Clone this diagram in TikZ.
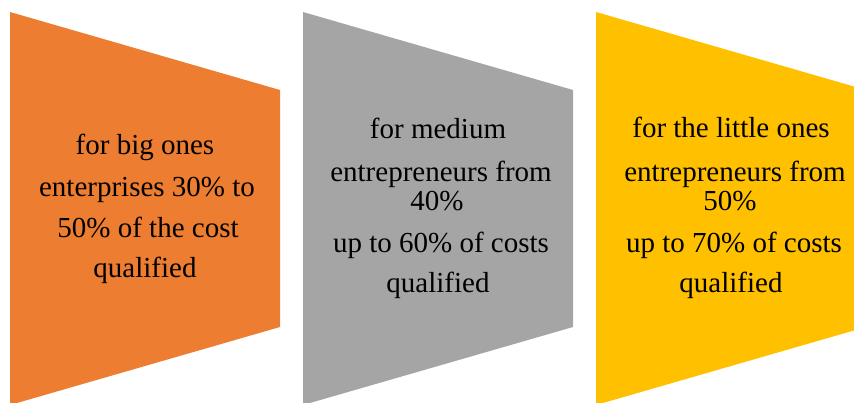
\documentclass[tikz,border=0pt]{standalone}
\usepackage{fontspec}
\setmainfont{Liberation Serif}
\definecolor{stageorange}{HTML}{ED7D31}
\definecolor{stagegray}{HTML}{A5A5A5}
\definecolor{stageyellow}{HTML}{FFC000}
\tikzset{
  stage/.style={draw=none},
  label/.style={anchor=base, inner sep=0pt, text=black,
    font=\fontsize{29}{34}\selectfont},
}
\begin{document}
\begin{tikzpicture}[x=1pt,y=-1pt]
\useasboundingbox (0,0) rectangle (854,403);
\clip (0,0) rectangle (854,403);

% three funnel-like stages
\fill[stage, stageorange] (10,12) -- (280,90) -- (280,327) -- (10,405) -- cycle;
\fill[stage, stagegray]   (303,12) -- (573,90) -- (573,327) -- (303,405) -- cycle;
\fill[stage, stageyellow] (596,12) -- (866,90) -- (866,327) -- (596,405) -- cycle;

% big enterprises
\node[label] (b1) at (145,155) {for big ones};
\node[label] (b2) at (147,197) {enterprises 30\% to};
\node[label] (b3) at (148,238) {50\% of the cost};
\node[label] (b4) at (145,278) {qualified};

% medium entrepreneurs
\node[label] (m1) at (438,139) {for medium};
\node[label] (m2) at (441,182) {entrepreneurs from};
\node[label] (m3) at (437,211) {40\%};
\node[label] (m4) at (441,253) {up to 60\% of costs};
\node[label] (m5) at (438,293) {qualified};

% little entrepreneurs
\node[label] (s1) at (731,138) {for the little ones};
\node[label] (s2) at (735,182) {entrepreneurs from};
\node[label] (s3) at (730,211) {50\%};
\node[label] (s4) at (734,253) {up to 70\% of costs};
\node[label] (s5) at (731,293) {qualified};
\end{tikzpicture}
\end{document}
